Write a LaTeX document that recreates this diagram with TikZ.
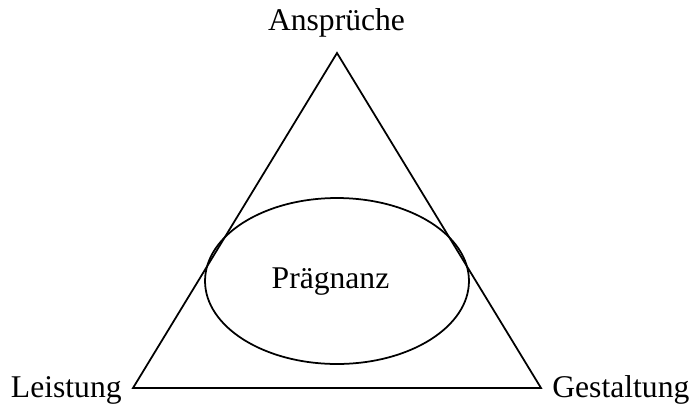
\documentclass[tikz,border=0pt]{standalone}
\usepackage{fontspec}
\setmainfont{Liberation Serif}
\usetikzlibrary{positioning,shapes.geometric}

\begin{document}
\begin{tikzpicture}[
      x=0.02cm, y=-0.02cm,
      ecke/.style={font=\fontsize{18}{21}\selectfont, inner sep=0pt},
      linie/.style={line width=1pt, black}
  ]
      \useasboundingbox (0,0) rectangle (694,410);

      % Eckpunkte des Dreiecks
      \coordinate (oben)   at (337,53);
      \coordinate (links)  at (133,388);
      \coordinate (rechts) at (541,388);

      % Dreieck
      \draw[linie] (oben) -- (links) -- (rechts) -- cycle;

      % Ellipse in der Mitte
      \node[ellipse, draw, linie, ecke, minimum width=5.28cm, minimum height=3.32cm]
            (praeg) at (337,281) {};
      \node[ecke, anchor=base] (ptext) at (330.5,288) {Prägnanz};

      % Beschriftung der Ecken
      \node[ecke, anchor=base]      (ansp) at (336.5,30) {Ansprüche};
      \node[ecke, anchor=base east] (leis) at (122,397)  {Leistung};
      \node[ecke, anchor=base west] (gest) at (552,397)  {Gestaltung};
  \end{tikzpicture}
\end{document}
